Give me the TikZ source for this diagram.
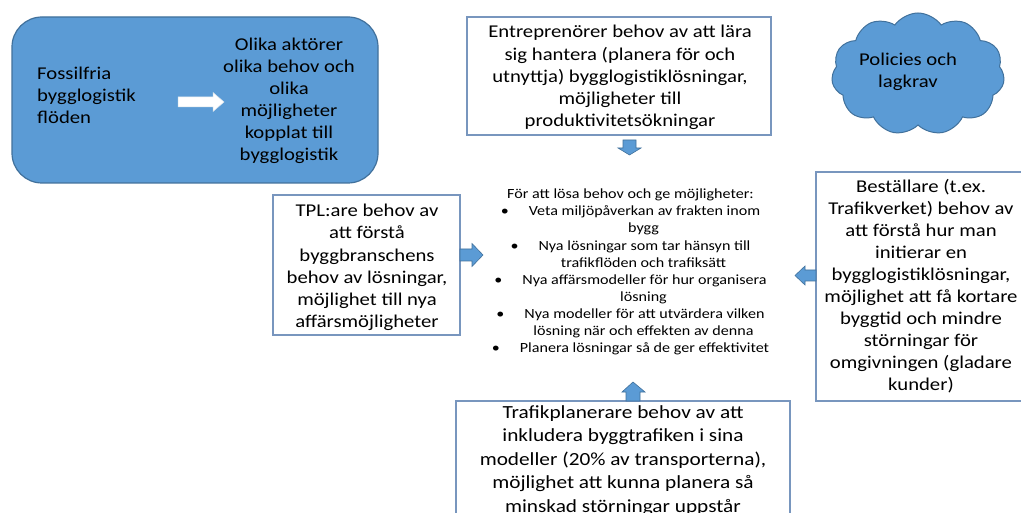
\documentclass[tikz,border=0pt]{standalone}
\usepackage{fontspec}
\setmainfont{Carlito}[FakeStretch=1.15]
\usetikzlibrary{shapes.symbols}
\definecolor{boxblue}{RGB}{91,155,213}
\definecolor{edgeblue}{RGB}{65,113,156}
\definecolor{lineblue}{RGB}{120,150,190}
\tikzset{
    bluebox/.style={rectangle, rounded corners=30pt, fill=boxblue, draw=edgeblue, line width=1.2pt},
    whitebox/.style={rectangle, fill=white, draw=lineblue, line width=1.2pt},
    txt/.style={inner sep=0pt, align=center, font=\fontsize{18}{22}\selectfont},
    barrow/.style={fill=boxblue, draw=edgeblue, line width=0.6pt}
}
\begin{document}
\begin{tikzpicture}[x=1pt,y=-1pt]
    \clip (0,0) rectangle (1021,513);
    \fill[white] (0,0) rectangle (1021,513);
    \node[bluebox, minimum width=366pt, minimum height=166pt] (flow) at (195,100) {};
    \node[txt, anchor=west, align=left] (fossil) at (37,95) {Fossilfria\\bygglogistik\\flöden};
    \node[txt] (aktorer) at (289,101) {Olika aktörer\\olika behov och\\olika\\möjligheter\\kopplat till\\bygglogistik};
    \filldraw[fill=white, draw=white!80!edgeblue, line width=0.5pt] (178,97) -- (213,97) -- (213,92.5) -- (224,102) -- (213,111.5) -- (213,107) -- (178,107) -- cycle;
    \node[whitebox, minimum width=304pt, minimum height=118pt] (entre) at (619,76) {};
    \node[txt, font=\fontsize{18}{22.2}\selectfont] (entretext) at (620,77.5) {Entreprenörer behov av att lära\\sig hantera (planera för och\\utnyttja) bygglogistiklösningar,\\möjligheter till\\produktivitetsökningar};
    \filldraw[barrow] (623,140) -- (636,140) -- (636,148) -- (641,148) -- (629.5,155) -- (618,148) -- (623,148) -- cycle;
    \node[cloud, cloud puffs=11, cloud puff arc=110, aspect=1.4, fill=boxblue, draw=edgeblue, line width=1pt, minimum width=173pt, minimum height=122pt, inner sep=0pt] (policy) at (918,74) {};
    \node[txt] (policytext) at (908,72) {Policies och\\lagkrav};
    \node[txt, font=\fontsize{14}{17.1}\selectfont] (center) at (630.5,272) {För att lösa behov och ge möjligheter:\\
        •\hspace{20pt}Veta miljöpåverkan av frakten inom\\\hspace*{26pt}bygg\\
        •\hspace{20pt}Nya lösningar som tar hänsyn till\\\hspace*{26pt}trafikflöden och trafiksätt\\
        •\hspace{20pt}Nya affärsmodeller för hur organisera\\\hspace*{26pt}lösning\\
        •\hspace{20pt}Nya modeller för att utvärdera vilken\\\hspace*{26pt}lösning när och effekten av denna\\
        •\hspace{20pt}Planera lösningar så de ger effektivitet};
    \node[whitebox, minimum width=187pt, minimum height=140pt] (tpl) at (366.5,265) {};
    \node[txt, font=\fontsize{18}{22.3}\selectfont] (tpltext) at (367,267.5) {TPL:are behov av\\att förstå\\byggbranschens\\behov av lösningar,\\möjlighet till nya\\affärsmöjligheter};
    \filldraw[barrow] (460,249) -- (472,249) -- (472,243.5) -- (483,255) -- (472,266.5) -- (472,261) -- (460,261) -- cycle;
    \node[whitebox, minimum width=210pt, minimum height=229pt] (bestall) at (921,286.5) {};
    \node[txt] (bestalltext) at (921,286.5) {Beställare (t.ex.\\Trafikverket) behov av\\att förstå hur man\\initierar en\\bygglogistiklösningar,\\möjlighet att få kortare\\byggtid och mindre\\störningar för\\omgivningen (gladare\\kunder)};
    \filldraw[barrow] (816,270) -- (805,270) -- (805,266) -- (795,275.5) -- (805,285) -- (805,281) -- (816,281) -- cycle;
    \node[whitebox, minimum width=334pt, minimum height=138pt] (trafik) at (623,470) {};
    \node[txt, font=\fontsize{18.5}{23.5}\selectfont] (trafiktext) at (623,460.5) {Trafikplanerare behov av att\\inkludera byggtrafiken i sina\\modeller (20\% av transporterna),\\möjlighet att kunna planera så\\minskad störningar uppstår};
    \filldraw[barrow] (626,401) -- (626,392) -- (622,392) -- (633,382) -- (645,392) -- (640,392) -- (640,401) -- cycle;
\end{tikzpicture}
\end{document}
